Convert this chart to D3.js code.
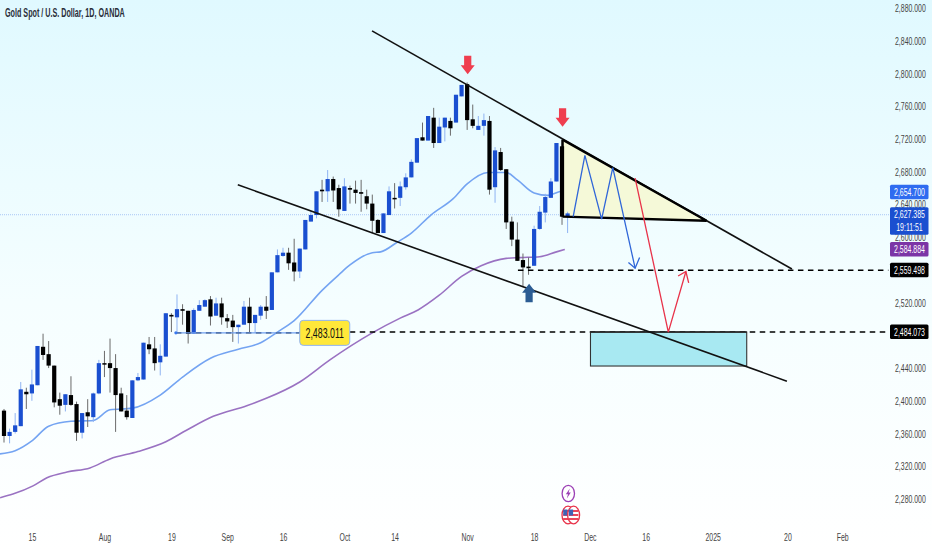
<!DOCTYPE html>
<html><head><meta charset="utf-8">
<script src="https://cdn.jsdelivr.net/npm/d3@7"></script>
<style>
html,body{margin:0;padding:0;background:#fff;overflow:hidden}
svg{display:block}
text{font-family:"Liberation Sans",sans-serif}
</style></head><body>
<svg id="c" width="932" height="550"></svg>
<script>
const title = "Gold Spot / U.S. Dollar, 1D, OANDA";
// Candles, bar 1 .. 102
const opens  = [2388,2357,2362,2369,2411,2409,2419,2466,2457,2443,2402,2395,2407,2396,2361,2386,2380,2409,2446,2446,2440,2409,2388,2379,2425,2426,2469,2464,2447,2454,2505,2502,2512,2510,2482,2510,2515,2524,2504,2519,2501,2498,2490,2493,2515,2495,2504,2515,2511,2557,2577,2581,2569,2558,2585,2619,2627,2658,2656,2671,2660,2632,2660,2658,2655,2650,2641,2621,2605,2627,2648,2648,2661,2673,2691,2722,2718,2746,2715,2734,2742,2740,2772,2787,2744,2731,2736,2742,2661,2704,2683,2619,2597,2572,2564,2565,2610,2630,2648,2668,2711,2625];
const highs  = [2390,2366,2385,2423,2416,2438,2467,2482,2473,2443,2410,2408,2430,2399,2385,2402,2410,2450,2461,2476,2457,2416,2407,2425,2434,2471,2478,2478,2469,2507,2507,2530,2518,2510,2513,2523,2524,2528,2526,2526,2506,2505,2493,2522,2526,2505,2517,2528,2557,2585,2587,2587,2598,2586,2621,2632,2656,2670,2682,2674,2664,2672,2663,2669,2670,2658,2652,2622,2629,2662,2666,2668,2678,2695,2721,2740,2748,2758,2746,2746,2746,2774,2786,2789,2762,2748,2751,2748,2710,2709,2683,2625,2618,2580,2575,2614,2638,2653,2672,2715,2719,2631];
const lows   = [2349,2348,2360,2369,2390,2400,2419,2450,2440,2392,2383,2387,2394,2351,2354,2368,2374,2408,2429,2410,2362,2387,2377,2379,2424,2426,2457,2437,2431,2454,2484,2484,2493,2470,2482,2510,2515,2492,2504,2493,2489,2472,2470,2493,2483,2483,2499,2500,2511,2557,2576,2560,2546,2550,2585,2619,2623,2643,2643,2643,2625,2632,2641,2641,2631,2634,2605,2605,2605,2627,2635,2638,2658,2673,2691,2718,2718,2709,2715,2717,2724,2740,2772,2731,2733,2731,2724,2652,2642,2681,2610,2589,2571,2540,2554,2565,2609,2618,2648,2668,2615,2605];
const closes = [2357,2362,2370,2414,2408,2420,2467,2456,2443,2398,2394,2408,2395,2361,2385,2381,2409,2446,2445,2440,2407,2387,2380,2425,2429,2471,2463,2446,2455,2507,2503,2512,2510,2482,2511,2517,2523,2503,2519,2502,2497,2490,2493,2515,2495,2505,2515,2510,2557,2578,2581,2568,2558,2586,2621,2627,2656,2656,2671,2657,2634,2662,2658,2654,2653,2641,2620,2605,2629,2656,2647,2662,2673,2692,2721,2718,2748,2715,2735,2746,2733,2774,2786,2743,2736,2736,2743,2658,2706,2682,2618,2597,2571,2563,2562,2610,2631,2649,2668,2715,2625,2629];

// Moving averages: bar index and price
const emaBars = [0,3,6,9,13,17,20,24,29,33,38,43,47,50,53,58,61,63,67,68.5,71.5,74,77.5,81.5,84,87.7,91,93,96,98.5,101,101.5];
const emaVals = [2335,2339,2351,2369,2375,2376,2389,2391,2407,2429,2452,2463,2471,2484,2498,2535,2554,2566,2581,2582,2594,2605,2627,2647,2665,2679,2679,2670,2654,2651,2656,2654.7];
const smaBars = [0.3,2.6,6.2,8.7,12.3,16.4,20,25,30,33.7,38.5,44.5,48,54,59.4,67,72,75.2,79,83,86.5,91,93.4,97,100,101.5];
const smaVals = [2281.6,2286,2296,2306,2313,2318,2329,2338,2350,2364,2381,2394,2403,2423,2450,2483,2501,2511,2529,2552,2565,2574,2575,2576,2582,2584.9];

// Price and time axes
const priceTicks = [2280,2320,2360,2400,2440,2520,2600,2640,2680,2720,2760,2800,2840,2880];
const timeBars   = [6,19,31,41,51,62,71,84,96,106,116,128,141.4,151.2];
const timeLabels = ["15","Aug","19","Sep","16","Oct","14","Nov","18","Dec","16","2025","20","Feb"];

// Drawing tools, as [bar index, price]
const upperTrend = [[66.95,2852],[142.2,2561]];
const lowerTrend = [[42.9,2664],[141.3,2424]];
const triangle   = [[101.1,2719],[126.9,2620],[101.1,2625]];
const bluePath   = [[103,2625],[105.1,2700],[108.1,2622],[110.1,2685],[114.1,2562]];
const blueHead   = [[112.9,2569],[114.1,2562],[114.9,2575]];
const redPath    = [[114.1,2672],[120.05,2484],[123.2,2558]];
const redHead    = [[121.8,2552.5],[123.2,2558],[123.7,2544]];
const targetBars = [106.1,134.1];
const targetVals = [2484,2442.5];
const levelA = 2559.498, levelB = 2484.073, marked = 2483.011, last = 2627.385;
const markedFrom = 31.8, markedTo = 54;
const downMarks = [[84.1,2799],[101.1,2735]];
const upMark = [95.1,2543];

const sideLabels = [
 {v:2654.7, t:["2,654.700"], bg:"#2f6bf0"},
 {v:2627.385, t:["2,627.385","19:11:51"], bg:"#1a4fd0"},
 {v:2584.884, t:["2,584.884"], bg:"#7b35a6"},
 {v:2559.498, t:["2,559.498"], bg:"#000"},
 {v:2484.073, t:["2,484.073"], bg:"#000"}
];

const W=932,H=550,axisX=890,squeeze=0.63;
const svg=d3.select("#c");
const defs=svg.append("defs");
const g=defs.append("linearGradient").attr("id","bg").attr("x1",0).attr("x2",0).attr("y1",0).attr("y2",1);
g.append("stop").attr("offset","0%").attr("stop-color","#e0f9ff");
g.append("stop").attr("offset","55%").attr("stop-color","#f5feff");
g.append("stop").attr("offset","100%").attr("stop-color","#ffffff");
svg.append("rect").attr("width",W).attr("height",H).attr("fill","url(#bg)");

const x=d3.scaleLinear().domain([1,102]).range([4,567.6]);
const y=d3.scaleLinear().domain([2280,2880]).range([499,8]);
const ln=d3.line().x(d=>x(d[0])).y(d=>y(d[1]));
const poly=(pts,stroke,w,fill)=>svg.append("path").attr("d",ln(pts)+(fill?"Z":"")).attr("fill",fill||"none").attr("stroke",stroke).attr("stroke-width",w).attr("stroke-linejoin","miter");
const hline=(a,b,v,stroke,w,dash)=>svg.append("line").attr("x1",x(a)).attr("x2",x(b)).attr("y1",y(v)).attr("y2",y(v)).attr("stroke",stroke).attr("stroke-width",w).attr("stroke-dasharray",dash||null);

const rightBar=x.invert(axisX), leftBar=x.invert(0);
hline(leftBar,rightBar,last,"#a9c6f5",1,"1 1");

const smooth=d3.line().x(d=>x(d[0])).y(d=>y(d[1])).curve(d3.curveMonotoneX);
svg.append("path").attr("d",smooth(emaBars.map((b,i)=>[b,emaVals[i]]))).attr("fill","none").attr("stroke","#74a4f2").attr("stroke-width",1.6);
svg.append("path").attr("d",smooth(smaBars.map((b,i)=>[b,smaVals[i]]))).attr("fill","none").attr("stroke","#9a72c2").attr("stroke-width",1.6);

poly(triangle,"none",0,"#f5f9d8");

const bars=d3.range(opens.length).map(i=>({i:i+1,o:opens[i],h:highs[i],l:lows[i],c:closes[i]}));
const cg=svg.append("g");
cg.selectAll("line").data(bars).join("line")
 .attr("x1",d=>x(d.i)).attr("x2",d=>x(d.i)).attr("y1",d=>y(d.h)).attr("y2",d=>y(d.l))
 .attr("stroke",d=>d.c>=d.o?"#8fb3f2":"#6a6a6a").attr("stroke-width",1);
cg.selectAll("rect").data(bars).join("rect")
 .attr("x",d=>x(d.i)-2.1).attr("width",4.2)
 .attr("y",d=>y(Math.max(d.o,d.c))).attr("height",d=>Math.max(1.5,Math.abs(y(d.o)-y(d.c))))
 .attr("fill",d=>d.c>=d.o?"#1a4fd0":"#000");

hline(markedFrom,markedTo,marked,"#000",1.5,"5.5 4.5");
hline(markedFrom,markedTo,marked,"#6f9ff0",1.1);
svg.append("circle").attr("cx",x(markedFrom)).attr("cy",y(marked)).attr("r",1.6).attr("fill","#3a78ee");
hline(93.1,rightBar-0.3,levelA,"#000",1.5,"5.5 4.5");
hline(markedTo,rightBar-0.3,levelB,"#000",1.5,"5.5 4.5");

svg.append("rect").attr("x",x(targetBars[0])).attr("width",x(targetBars[1])-x(targetBars[0]))
 .attr("y",y(targetVals[0])).attr("height",y(targetVals[1])-y(targetVals[0]))
 .attr("fill","#a8e9f2").attr("stroke","#333").attr("stroke-width",1.1);
hline(targetBars[0],targetBars[1],targetVals[0],"#222",1.4);

poly(upperTrend,"#111",1.6);
poly(lowerTrend,"#111",1.6);
poly(triangle,"#000",2.4);
svg.append("path").attr("d",ln([triangle[2],triangle[0]])).attr("stroke","#000").attr("stroke-width",2.4);

poly(bluePath,"#2f66d8",1.3);
poly(blueHead,"#2f66d8",1.3);
poly(redPath,"#e8334a",1.3);
poly(redHead,"#e8334a",1.3);

function arrow(b,v,dir,col){
 const px=x(b),py=y(v);
 const pts=[[0,0],[7,9],[3.6,9],[3.6,18.5],[-3.6,18.5],[-3.6,9],[-7,9]];
 svg.append("path").attr("d",d3.line().x(p=>px+p[0]).y(p=>py+(dir>0?p[1]:-p[1]))(pts)+"Z").attr("fill",col);
}
downMarks.forEach(m=>arrow(m[0],m[1],-1,"#ef3e4f"));
arrow(upMark[0],upMark[1],1,"#2b5c93");

const lab=svg.append("g").attr("transform",`translate(${x(markedTo)},${y(marked)-12.5})`);
lab.append("rect").attr("width",50).attr("height",25).attr("rx",3.5).attr("fill","#ffe83a").attr("stroke","#8fb3f2").attr("stroke-width",1);
lab.append("text").attr("transform",`translate(25,17.5) scale(${squeeze},1)`).attr("text-anchor","middle").attr("font-size",14).attr("fill","#111").text(d3.format(",.3f")(marked));

const yAxis=d3.axisRight(y).tickValues(priceTicks).tickFormat(d3.format(",.3f")).tickSize(0).tickPadding(0);
const ya=svg.append("g").attr("transform","translate(895,0)").call(yAxis);
ya.select(".domain").remove();
ya.selectAll("text").attr("font-size",11).attr("fill","#444").attr("transform",`scale(${squeeze},1)`);
const xAxis=d3.axisBottom(x).tickValues(timeBars).tickFormat((d,i)=>timeLabels[i]).tickSize(0).tickPadding(0);
const xa=svg.append("g").attr("transform","translate(0,533)").call(xAxis);
xa.select(".domain").remove();
xa.selectAll("text").attr("font-size",11).attr("fill","#444").attr("transform",`scale(${squeeze},1)`);

sideLabels.forEach(s=>{
 const h=s.t.length*13+1.5, top=y(s.v)-7.5;
 const t=svg.append("g").attr("transform",`translate(890,${top})`);
 t.append("rect").attr("width",38.5).attr("height",h).attr("rx",1.5).attr("fill",s.bg);
 s.t.forEach((tx,i)=>t.append("text").attr("transform",`translate(19.5,${11+i*13}) scale(${squeeze},1)`).attr("text-anchor","middle").attr("font-size",11).attr("fill","#fff").text(tx));
});

const tt=svg.append("text").attr("font-size",12).attr("font-weight",700).attr("fill","#2a2e39").text(title);
tt.attr("transform",`translate(5,17) scale(${120/tt.node().getComputedTextLength()},1)`);

const ic=svg.append("g").attr("transform","translate(568.3,493.5)");
ic.append("ellipse").attr("rx",6.2).attr("ry",8.2).attr("fill","#fff").attr("stroke","#9b3fb5").attr("stroke-width",1.3);
ic.append("path").attr("d","M1.5,-5 L-2.5,0.8 L-0.3,0.8 L-1.5,5 L2.5,-1 L0.3,-1 Z").attr("fill","#9b3fb5");
const fl=svg.append("g").attr("transform","translate(570.8,515)");
[-2.8,2.8].forEach(dx=>{
 const q=fl.append("g").attr("transform",`translate(${dx},0)`);
 q.append("ellipse").attr("rx",6).attr("ry",8.8).attr("fill","#fff").attr("stroke","#e8334a").attr("stroke-width",1.3);
 [-4,0,4].forEach(sy=>q.append("rect").attr("x",-4.8).attr("y",sy-0.9).attr("width",9.6).attr("height",1.8).attr("fill","#e8334a"));
 q.append("path").attr("d","M-4.8,-5.5 L-0.5,-5.5 L-0.5,0.5 L-4.8,0.5 Z").attr("fill","#3f62b5");
});
</script>
</body></html>
